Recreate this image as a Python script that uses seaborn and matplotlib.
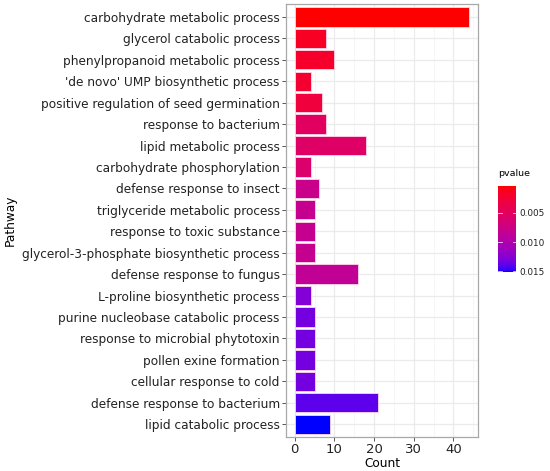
"""
GO enrichment bar chart: pathway counts coloured by p-value.
"""

import numpy as np
import pandas as pd
import matplotlib
matplotlib.use('Agg')
import matplotlib.pyplot as plt
from matplotlib.colors import ListedColormap, Normalize
from matplotlib.cm import ScalarMappable
import seaborn as sns

pathways = [
    "carbohydrate metabolic process",
    "glycerol catabolic process",
    "phenylpropanoid metabolic process",
    "'de novo' UMP biosynthetic process",
    "positive regulation of seed germination",
    "response to bacterium",
    "lipid metabolic process",
    "carbohydrate phosphorylation",
    "defense response to insect",
    "triglyceride metabolic process",
    "response to toxic substance",
    "glycerol-3-phosphate biosynthetic process",
    "defense response to fungus",
    "L-proline biosynthetic process",
    "purine nucleobase catabolic process",
    "response to microbial phytotoxin",
    "pollen exine formation",
    "cellular response to cold",
    "defense response to bacterium",
    "lipid catabolic process",
]
counts = [44, 8, 10, 4, 7, 8, 18, 4, 6, 5, 5, 5, 16, 4, 5, 5, 5, 5, 21, 9]
pvalues = [0.0004, 0.0016, 0.0019, 0.0022, 0.0029, 0.0051, 0.0055, 0.0058,
           0.0078, 0.0082, 0.0082, 0.0082, 0.0085, 0.0126, 0.0132, 0.0132,
           0.0132, 0.0132, 0.0139, 0.0151]

cbar_ticks = [0.005, 0.010, 0.015]
x_ticks = [0, 10, 20, 30, 40]


def srgb_to_lab(rgb):
    rgb = np.asarray(rgb, dtype=float)
    lin = np.where(rgb <= 0.04045, rgb / 12.92, ((rgb + 0.055) / 1.055) ** 2.4)
    m = np.array([[0.4124, 0.3576, 0.1805],
                  [0.2126, 0.7152, 0.0722],
                  [0.0193, 0.1192, 0.9505]])
    xyz = m @ lin / np.array([0.95047, 1.0, 1.08883])
    f = np.where(xyz > 0.008856, np.cbrt(xyz), 7.787 * xyz + 16 / 116)
    return np.array([116 * f[1] - 16, 500 * (f[0] - f[1]), 200 * (f[1] - f[2])])


def lab_to_srgb(lab):
    L, a, b = lab
    fy = (L + 16) / 116
    fx = fy + a / 500
    fz = fy - b / 200
    f = np.array([fx, fy, fz])
    xyz = np.where(f ** 3 > 0.008856, f ** 3, (f - 16 / 116) / 7.787)
    xyz = xyz * np.array([0.95047, 1.0, 1.08883])
    minv = np.array([[3.2406, -1.5372, -0.4986],
                     [-0.9689, 1.8758, 0.0415],
                     [0.0557, -0.2040, 1.0570]])
    lin = minv @ xyz
    lin = np.clip(lin, 0, 1)
    rgb = np.where(lin <= 0.0031308, 12.92 * lin, 1.055 * lin ** (1 / 2.4) - 0.055)
    return np.clip(rgb, 0, 1)


# red -> blue gradient interpolated in Lab, like ggplot's scale_fill_gradient
lab_lo = srgb_to_lab([1, 0, 0])
lab_hi = srgb_to_lab([0, 0, 1])
ramp = [lab_to_srgb(lab_lo + t * (lab_hi - lab_lo)) for t in np.linspace(0, 1, 256)]
cmap = ListedColormap(ramp)
norm = Normalize(vmin=min(pvalues), vmax=max(pvalues))

df = pd.DataFrame({'Pathway': pathways, 'Count': counts, 'pvalue': pvalues})

fig = plt.figure(figsize=(5.5, 4.71), dpi=100)
ax = fig.add_axes([0.52, 0.072, 0.349, 0.9195])

sns.barplot(data=df, x='Count', y='Pathway', hue='pvalue', palette=cmap,
            hue_norm=norm, dodge=False, legend=False, width=0.9, saturation=1,
            edgecolor='#ffd6e8', linewidth=0.6, ax=ax, zorder=3)

ax.set_xlim(-2.2, 46.2)
ax.set_ylim(len(pathways) - 0.4, -0.6)
ax.set_xticks(x_ticks)
ax.set_xticks([5, 15, 25, 35, 45], minor=True)
ax.set_yticks(range(len(pathways)), minor=True)
ax.grid(True, which='major', color='#ebebeb', linewidth=0.9, zorder=0)
ax.grid(True, which='minor', axis='x', color='#f3f3f3', linewidth=0.5, zorder=0)
ax.set_axisbelow(True)
for s in ax.spines.values():
    s.set_color('#a8a8a8')
    s.set_linewidth(0.9)
ax.tick_params(axis='both', which='major', length=3, width=0.7, color='#555555',
               labelsize=8.7, labelcolor='#222222', pad=1.5)
ax.tick_params(axis='x', which='major', labelsize=9.5, pad=1)
ax.tick_params(axis='x', which='minor', length=0)
ax.tick_params(axis='y', which='minor', length=0)
ax.set_xlabel('Count', fontsize=8.7, labelpad=1)
ax.set_ylabel('Pathway', fontsize=8.7, labelpad=4)

# colourbar legend
cax = fig.add_axes([0.9055, 0.4225, 0.033, 0.1826])
sm = ScalarMappable(norm=norm, cmap=cmap)
cb = fig.colorbar(sm, cax=cax, ticks=cbar_ticks)
cax.invert_yaxis()
cb.outline.set_visible(False)
cax.set_yticklabels([f'{t:.3f}' for t in cbar_ticks])
cax.tick_params(length=0, labelsize=6.4, labelcolor='#222222', pad=2.5)
for t in cbar_ticks:
    cax.axhline(t, xmin=0, xmax=0.2, color='white', linewidth=0.5)
    cax.axhline(t, xmin=0.8, xmax=1, color='white', linewidth=0.5)
fig.text(0.9055, 0.623, 'pvalue', fontsize=6.8, ha='left', va='bottom')

fig.savefig('out.png', dpi=100)
